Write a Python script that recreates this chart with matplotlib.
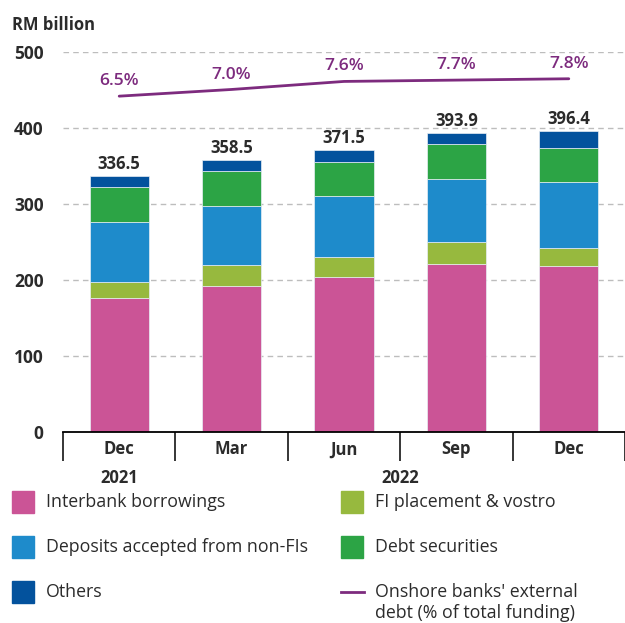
"""Onshore banks' external debt by instrument, Dec 2021 - Dec 2022."""
import matplotlib

matplotlib.use("Agg")
import matplotlib.pyplot as plt
from matplotlib.lines import Line2D
from matplotlib.patches import Rectangle

plt.rcParams["font.family"] = ["Open Sans", "DejaVu Sans"]

# Data (RM billion).
months = ["Dec", "Mar", "Jun", "Sep", "Dec"]
years = ["2021", "2022"]
interbank = [176, 192.5, 204, 220.6, 218]
fi_placement = [21.4, 26.8, 26.3, 29.0, 24.5]
deposits = [78.6, 78.1, 80.2, 82.9, 86.9]
debt_sec = [46.0, 46.0, 45.2, 46.0, 43.9]
totals = [336.5, 358.5, 371.5, 393.9, 396.4]
ext_debt_pct = [6.5, 7.0, 7.6, 7.7, 7.8]

COLORS = {
    "interbank": "#cb5496",
    "fi": "#97b93e",
    "deposits": "#1e8bcb",
    "debt": "#2ca445",
    "others": "#03529d",
    "line": "#7d2b7e",
}
TEXT = "#2b2b2b"

fig = plt.figure(figsize=(6.25, 6.23), dpi=100)
ax = fig.add_axes([63 / 625, 1 - 432 / 623, 1 - 63 / 625, 380 / 623])

xs = list(range(len(months)))
others = [t - a - b - c - d for t, a, b, c, d in
          zip(totals, interbank, fi_placement, deposits, debt_sec)]
stack = [("interbank", interbank), ("fi", fi_placement), ("deposits", deposits),
         ("debt", debt_sec), ("others", others)]
bottom = [0.0] * len(xs)
for key, vals in stack:
    ax.bar(xs, vals, bottom=bottom, width=0.525, color=COLORS[key],
           edgecolor="#e8eef5", linewidth=0.5, zorder=3)
    bottom = [b + v for b, v in zip(bottom, vals)]

for x, t in zip(xs, totals):
    ax.annotate(f"{t:.1f}", (x, t), xytext=(0, 2), textcoords="offset points",
                ha="center", va="bottom", fontsize=12, fontweight="bold", color=TEXT)

ax.set_xlim(-0.5, 4.417)
ax.set_ylim(0, 500)
ax.set_yticks(range(0, 501, 100))
ax.yaxis.grid(True, color="#bdbdbd", linestyle=(0, (4, 3)), linewidth=1)
ax.set_axisbelow(True)
for s in ("top", "right", "left"):
    ax.spines[s].set_visible(False)
ax.spines["bottom"].set_linewidth(1.3)
ax.spines["bottom"].set_zorder(5)

ax.set_xticks(xs)
ax.set_xticklabels(months, fontsize=12, fontweight="bold", color=TEXT)
ax.set_xticks([x - 0.5 for x in xs] + [4.5], minor=True)
ax.tick_params(axis="x", which="major", length=0, pad=6)
ax.tick_params(axis="x", which="minor", length=21, width=1.1, color="black")
ax.tick_params(axis="y", length=0, pad=14, labelsize=12.5, labelcolor=TEXT)
for lab in ax.get_yticklabels():
    lab.set_fontweight("bold")

# Year labels under the month groups.
ax.annotate(years[0], (xs[0], -0.12), xycoords=("data", "axes fraction"),
            ha="center", va="center", fontsize=12, fontweight="bold", color=TEXT)
ax.annotate(years[1], ((xs[1] + xs[-1]) / 2, -0.12), xycoords=("data", "axes fraction"),
            ha="center", va="center", fontsize=12, fontweight="bold", color=TEXT)

fig.text(12 / 625, 1 - 25 / 623, "RM billion", fontsize=12, fontweight="bold",
         color=TEXT, ha="left", va="center")

# Share of total funding on a hidden secondary scale.
ax2 = ax.twinx()
ax2.set_ylim(-18.6, 9.8)
ax2.set_axis_off()
ax2.plot(xs, ext_debt_pct, color=COLORS["line"], lw=2, solid_capstyle="round")
for x, p in zip(xs, ext_debt_pct):
    ax2.annotate(f"{p:.1f}%", (x, p), xytext=(0, 5), textcoords="offset points",
                 ha="center", va="bottom", fontsize=12.5, fontweight="semibold",
                 color=COLORS["line"])

# Legend, two columns.
legend_items = [
    ("interbank", "Interbank borrowings", 12, 502),
    ("deposits", "Deposits accepted from non-FIs", 12, 547),
    ("others", "Others", 12, 592),
    ("fi", "FI placement & vostro", 341, 502),
    ("debt", "Debt securities", 341, 547),
]
W, H = 625, 623
for key, label, px, py in legend_items:
    fig.add_artist(Rectangle((px / W, 1 - (py + 11) / H), 22 / W, 22 / H,
                             transform=fig.transFigure, color=COLORS[key]))
    fig.text((px + 34) / W, 1 - py / H, label, fontsize=12.8, color=TEXT,
             ha="left", va="center")
fig.add_artist(Line2D([341 / W, 364 / W], [1 - 592 / H] * 2, transform=fig.transFigure,
                      color=COLORS["line"], lw=2))
fig.text(375 / W, 1 - 592 / H, "Onshore banks' external", fontsize=12.8, color=TEXT,
         ha="left", va="center")
fig.text(375 / W, 1 - 613 / H, "debt (% of total funding)", fontsize=12.8, color=TEXT,
         ha="left", va="center")

fig.savefig("out.png", dpi=100)
